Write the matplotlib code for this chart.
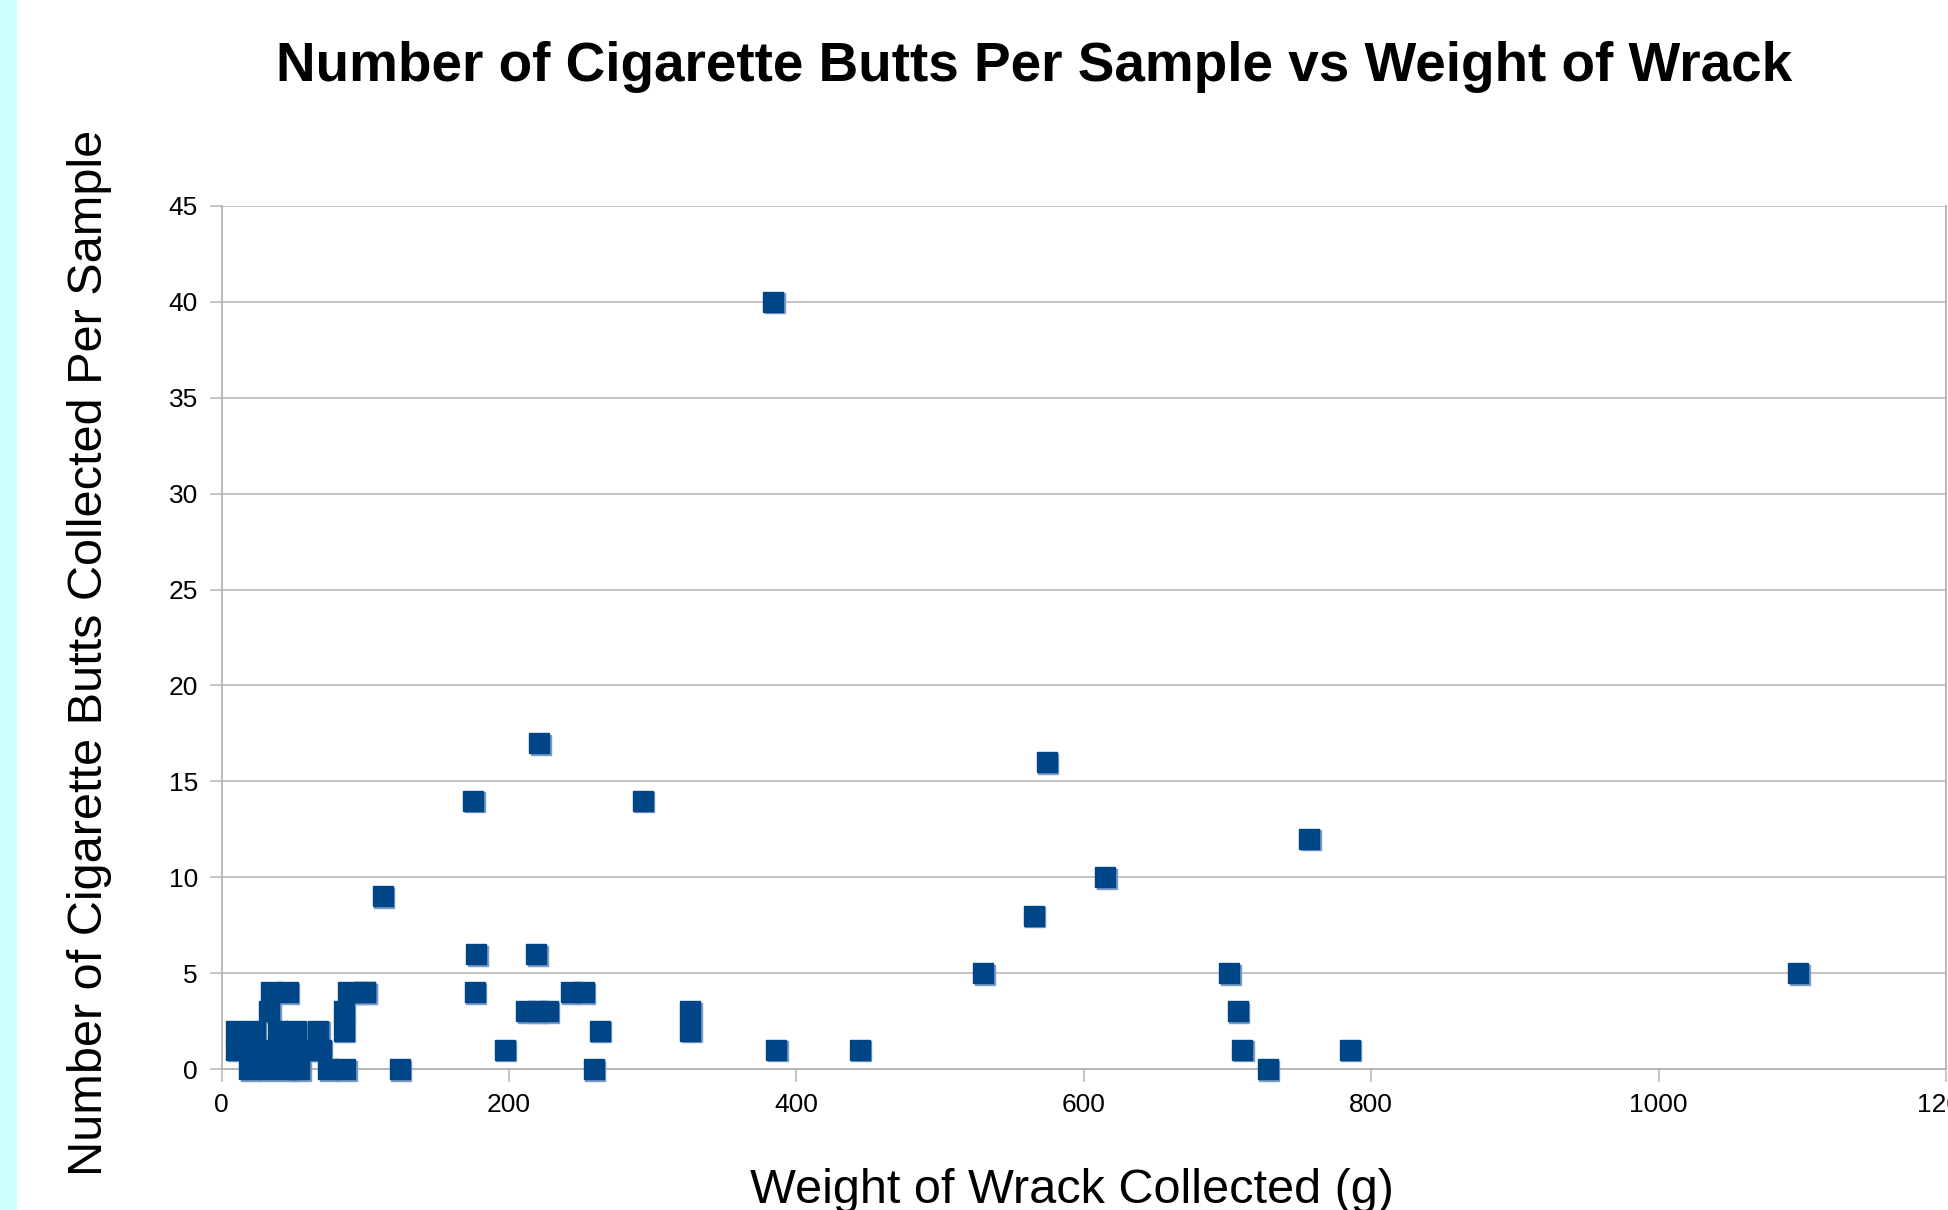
import matplotlib
matplotlib.use('Agg')
import matplotlib.pyplot as plt
import matplotlib.transforms as mtransforms
from matplotlib.patches import Rectangle

plt.rcParams['font.family'] = ['Liberation Sans', 'DejaVu Sans']

# weight of wrack (g) vs cigarette butts per sample
weight = [384, 221, 574, 175, 293, 757, 615, 112, 565,
          177, 219, 530, 701, 1097,
          176, 243, 252, 100, 88, 100, 34, 46,
          212, 220, 227, 326, 707, 33, 85,
          263, 326, 10, 23, 39, 52, 67, 85,
          197, 386, 444, 710, 785, 10, 23, 37, 51, 63, 69,
          124, 259, 728, 19, 32, 46, 54, 74, 86]
butts = [40, 17, 16, 14, 14, 12, 10, 9, 8,
         6, 6, 5, 5, 5,
         4, 4, 4, 4, 4, 4, 4, 4,
         3, 3, 3, 3, 3, 3, 3,
         2, 2, 2, 2, 2, 2, 2, 2,
         1, 1, 1, 1, 1, 1, 1, 1, 1, 1, 1,
         0, 0, 0, 0, 0, 0, 0, 0, 0]

xticks = list(range(0, 1201, 200))
yticks = list(range(0, 46, 5))

fig = plt.figure(figsize=(19.48, 12.10), dpi=100)
fig.patches.append(Rectangle((0, 0), 16 / 1948, 1, transform=fig.transFigure,
                             color='#ccffff', zorder=0))
ax = fig.add_axes([0.1138, 0.1165, 0.8852, 0.7133])

# light shadow behind each square, then the square itself
shadow = mtransforms.offset_copy(ax.transData, fig=fig, x=1.6, y=-1.6, units='dots')
ax.plot(weight, butts, 's', ms=13.8, color='#7a9cc8', mec='#7a9cc8',
        transform=shadow, zorder=3, clip_on=False)
ax.plot(weight, butts, 's', ms=13.8, color='#004586', mec='#004586',
        zorder=4, clip_on=False)

ax.set_xlim(0, 1200)
ax.set_ylim(0, 45)
ax.set_xticks(xticks)
ax.set_yticks(yticks)
ax.grid(axis='y', color='#c0c0c0', lw=1.3)
ax.set_axisbelow(True)
for s in ['left', 'bottom', 'right']:
    ax.spines[s].set_color('#b3b3b3')
    ax.spines[s].set_linewidth(1.3)
ax.spines['top'].set_visible(False)
ax.tick_params(axis='both', length=9, width=1.3, color='#c0c0c0',
               labelsize=19, labelcolor='black', pad=8)

fig.text(0.531, 0.945, 'Number of Cigarette Butts Per Sample vs Weight of Wrack',
         ha='center', va='center', fontsize=39.5, fontweight='bold')
fig.text(0.046, 0.4603, 'Number of Cigarette Butts Collected Per Sample',
         ha='center', va='center', rotation=90, fontsize=35)
fig.text(0.5503, 0.016, 'Weight of Wrack Collected (g)',
         ha='center', va='center', fontsize=35)

fig.savefig('out.png', dpi=100)
